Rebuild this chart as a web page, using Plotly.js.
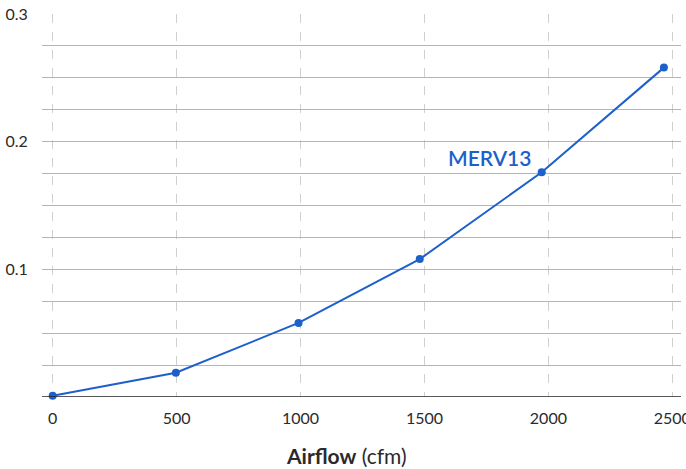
<!DOCTYPE html>
<html>
<head>
<meta charset="utf-8">
<script src="https://cdn.plot.ly/plotly-3.0.1.min.js"></script>
<style>html,body{margin:0;padding:0;background:#fff;}#chart{width:686px;height:469px;}</style>
</head>
<body>
<div id="chart"></div>
<script>
const airflow = [0, 497, 992, 1481, 1973, 2466];
const pressureDrop = [0.001, 0.019, 0.058, 0.108, 0.176, 0.258];
const seriesName = 'MERV13';
const xTickVals = [0, 500, 1000, 1500, 2000, 2500];
const xTickText = ['0', '500', '1000', '1500', '2000', '2500'];
const yTickVals = [0.025, 0.05, 0.075, 0.1, 0.125, 0.15, 0.175, 0.2, 0.225, 0.25, 0.275, 0.3];
const yTickText = ['', '', '', '0.1', '', '', '', '0.2', '', '', '', '0.3'];

const blue = '#1d5fcb';
const fontFam = 'Lato, "Open Sans", sans-serif';

const trace = {
  x: airflow, y: pressureDrop, name: seriesName,
  type: 'scatter', mode: 'lines+markers',
  line: {color: blue, width: 2},
  marker: {color: blue, size: 8},
  cliponaxis: false, hoverinfo: 'x+y'
};

const layout = {
  width: 686, height: 469,
  margin: {l: 42, r: 5, t: 14, b: 72},
  paper_bgcolor: '#fff', plot_bgcolor: '#fff',
  showlegend: false,
  font: {family: fontFam, color: '#333', size: 16},
  xaxis: {
    range: [-43, 2535],
    tickvals: xTickVals, ticktext: xTickText,
    showgrid: true, gridcolor: '#cfcfcf', griddash: 'dash', gridwidth: 1,
    zeroline: false, showline: false,
    ticks: 'outside', ticklen: 7, tickcolor: 'rgba(0,0,0,0)',
    ticklabeloverflow: 'allow',
    tickfont: {family: fontFam, size: 16, color: '#2a2a2a'}
  },
  yaxis: {
    range: [0, 0.3],
    tickvals: yTickVals, ticktext: yTickText,
    showgrid: true, gridcolor: '#b5b5b5', gridwidth: 1,
    zeroline: false, showline: false,
    ticks: 'outside', ticklen: 10, tickcolor: 'rgba(0,0,0,0)',
    tickfont: {family: fontFam, size: 16, color: '#2a2a2a'}
  },
  shapes: [{
    type: 'line', xref: 'paper', yref: 'y', x0: 0, x1: 1, y0: 0, y1: 0,
    line: {color: '#222', width: 1.5}, layer: 'above'
  }],
  annotations: [
    {
      x: 1762, y: 0.1875, xref: 'x', yref: 'y', text: seriesName,
      xanchor: 'center', yanchor: 'middle',
      showarrow: false, font: {family: fontFam, size: 21, color: blue, weight: 600}
    },
    {
      x: 0.476, y: -0.153, xref: 'paper', yref: 'paper',
      xanchor: 'center', yanchor: 'middle',
      text: '<b>Airflow</b> (cfm)', showarrow: false,
      font: {family: fontFam, size: 21, color: '#2a2a2a'}
    }
  ]
};

Plotly.newPlot('chart', [trace], layout, {displayModeBar: false, staticPlot: true});
</script>
</body>
</html>
